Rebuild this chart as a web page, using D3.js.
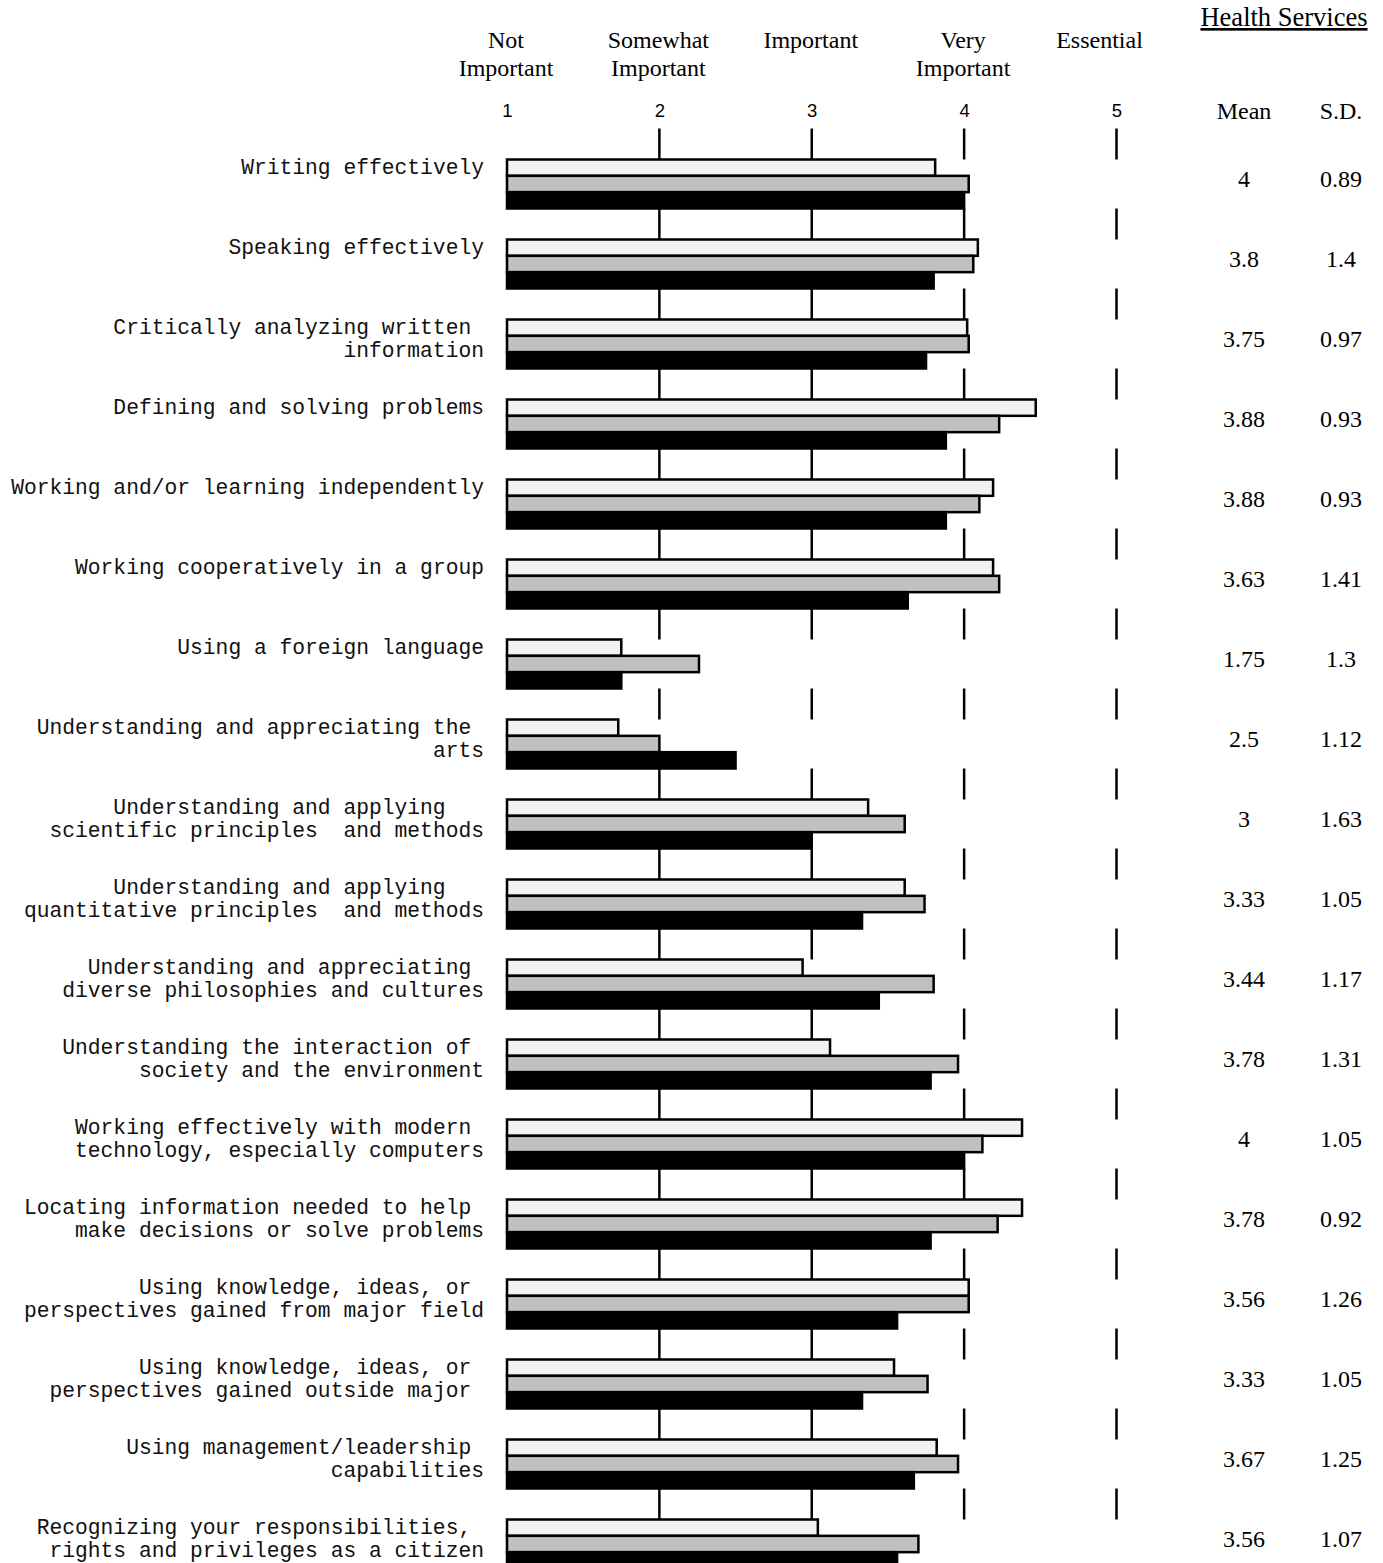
<!DOCTYPE html>
<html>
<head>
<meta charset="utf-8">
<script src="https://cdn.jsdelivr.net/npm/d3@7"></script>
<style>
  body { margin: 0; background: #fff; }
  svg { display: block; }
</style>
</head>
<body>
<div id="chart"></div>
<script>
// skill labels, one array of lines per row (trailing spaces are in the original)
const categories = [
  ["Writing effectively"],
  ["Speaking effectively"],
  ["Critically analyzing written ", "information"],
  ["Defining and solving problems"],
  ["Working and/or learning independently"],
  ["Working cooperatively in a group"],
  ["Using a foreign language"],
  ["Understanding and appreciating the ", "arts"],
  ["Understanding and applying   ", "scientific principles  and methods"],
  ["Understanding and applying   ", "quantitative principles  and methods"],
  ["Understanding and appreciating ", "diverse philosophies and cultures"],
  ["Understanding the interaction of ", "society and the environment"],
  ["Working effectively with modern ", "technology, especially computers"],
  ["Locating information needed to help ", "make decisions or solve problems"],
  ["Using knowledge, ideas, or ", "perspectives gained from major field"],
  ["Using knowledge, ideas, or ", "perspectives gained outside major "],
  ["Using management/leadership ", "capabilities"],
  ["Recognizing your responsibilities, ", "rights and privileges as a citizen"],
];

// light bar, grey bar
const lightValues = [3.81, 4.09, 4.02, 4.47, 4.19, 4.19, 1.75, 1.73, 3.37, 3.61, 2.94, 3.12, 4.38, 4.38, 4.03, 3.54, 3.82, 3.04];
const greyValues = [4.03, 4.06, 4.03, 4.23, 4.1, 4.23, 2.26, 2.0, 3.61, 3.74, 3.8, 3.96, 4.12, 4.22, 4.03, 3.76, 3.96, 3.7];

// Health Services (black bar = mean)
const means = [4, 3.8, 3.75, 3.88, 3.88, 3.63, 1.75, 2.5, 3, 3.33, 3.44, 3.78, 4, 3.78, 3.56, 3.33, 3.67, 3.56];
const sds = ["0.89", "1.4", "0.97", "0.93", "0.93", "1.41", "1.3", "1.12", "1.63", "1.05", "1.17", "1.31", "1.05", "0.92", "1.26", "1.05", "1.25", "1.07"];

const tickValues = [1, 2, 3, 4, 5];
const scaleLabels = [["Not", "Important"], ["Somewhat", "Important"], ["Important"], ["Very", "Important"], ["Essential"]];
const gridValues = [2, 3, 4, 5];
const seriesKeys = ["light", "grey", "health"];

const width = 1383,
  height = 1563;

const serif = "'Liberation Serif', 'Times New Roman', serif";
const mono = "'Liberation Mono', 'Courier New', monospace";
const sans = "'Liberation Sans', Arial, sans-serif";

const svg = d3
  .select("#chart")
  .append("svg")
  .attr("width", width)
  .attr("height", height)
  .style("background", "#fff");

// x scale: 1..5 importance
const x = d3.scaleLinear().domain([1, 5]).range([507, 1116.5]);

// one band per skill, step 80px
const rowIdx = d3.range(categories.length);
const pad = 0.3875;
const y = d3
  .scaleBand()
  .domain(rowIdx)
  .range([159.5, 159.5 + 80 * (categories.length - pad)])
  .paddingInner(pad)
  .paddingOuter(0);

// sub band for the three bars
const ySub = d3.scaleBand().domain(seriesKeys).range([0, y.bandwidth()]);

const color = d3.scaleOrdinal().domain(seriesKeys).range(["#f2f2f2", "#c0c0c0", "#000000"]);

// grid segments, only in the gaps between groups
const gridData = [];
rowIdx.forEach((i) => gridValues.forEach((v) => gridData.push({ i, v })));
svg
  .append("g")
  .selectAll("line")
  .data(gridData)
  .join("line")
  .attr("x1", (d) => x(d.v))
  .attr("x2", (d) => x(d.v))
  .attr("y1", (d) => y(d.i) - 31)
  .attr("y2", (d) => y(d.i))
  .attr("stroke", "#000")
  .attr("stroke-width", 2.5);

// bars
const rows = rowIdx.map((i) => [
  { key: "light", value: lightValues[i] },
  { key: "grey", value: greyValues[i] },
  { key: "health", value: means[i] },
]);

svg
  .append("g")
  .selectAll("g")
  .data(rows)
  .join("g")
  .attr("transform", (d, i) => `translate(0, ${y(i)})`)
  .selectAll("rect")
  .data((d) => d)
  .join("rect")
  .attr("x", x(1))
  .attr("y", (d) => ySub(d.key))
  .attr("width", (d) => x(d.value) - x(1))
  .attr("height", ySub.bandwidth())
  .attr("fill", (d) => color(d.key))
  .attr("stroke", "#000")
  .attr("stroke-width", 2.5);

// skill labels on the left
svg
  .append("g")
  .selectAll("text")
  .data(categories)
  .join("text")
  .attr("xml:space", "preserve")
  .style("white-space", "pre")
  .attr("text-anchor", "end")
  .style("font-family", mono)
  .style("font-size", "21.3px")
  .attr("fill", "#111")
  .each(function (lines, i) {
    d3.select(this)
      .selectAll("tspan")
      .data(lines)
      .join("tspan")
      .attr("x", 484)
      .attr("y", (l, j) => y(i) + 14 + j * 23)
      .text((l) => l);
  });

// tick numbers along the top
const axis = svg
  .append("g")
  .attr("transform", "translate(0, 117)")
  .call(d3.axisTop(x).tickValues(tickValues).tickSize(0).tickFormat(d3.format("d")));
axis.select(".domain").remove();
axis
  .selectAll("text")
  .attr("dy", 0)
  .attr("y", 0)
  .style("font-family", sans)
  .style("font-size", "18.5px")
  .attr("fill", "#000");

// scale labels above the numbers
svg
  .append("g")
  .selectAll("text")
  .data(scaleLabels)
  .join("text")
  .attr("text-anchor", "middle")
  .style("font-family", serif)
  .style("font-size", "24px")
  .each(function (lines, i) {
    // "Essential" sits a little left of its tick in the original
    const cx = x(tickValues[i]) - (i === 4 ? 16 : 0) - 1;
    d3.select(this)
      .selectAll("tspan")
      .data(lines)
      .join("tspan")
      .attr("x", cx)
      .attr("y", (l, j) => 48 + j * 28)
      .text((l) => l);
  });

// Health Services header
const meanX = 1244,
  sdX = 1341;

svg
  .append("text")
  .attr("x", 1284)
  .attr("y", 26)
  .attr("text-anchor", "middle")
  .style("font-family", serif)
  .style("font-size", "26.5px")
  .style("text-decoration", "underline")
  .text("Health Services");

svg
  .append("text")
  .attr("x", meanX)
  .attr("y", 119)
  .attr("text-anchor", "middle")
  .style("font-family", serif)
  .style("font-size", "24px")
  .text("Mean");

svg
  .append("text")
  .attr("x", sdX)
  .attr("y", 119)
  .attr("text-anchor", "middle")
  .style("font-family", serif)
  .style("font-size", "24px")
  .text("S.D.");

// mean / sd columns
const stats = svg.append("g").style("font-family", serif).style("font-size", "24px");

stats
  .selectAll(".mean")
  .data(means)
  .join("text")
  .attr("class", "mean")
  .attr("x", meanX)
  .attr("y", (d, i) => y(i) + 27)
  .attr("text-anchor", "middle")
  .text((d) => d);

stats
  .selectAll(".sd")
  .data(sds)
  .join("text")
  .attr("class", "sd")
  .attr("x", sdX)
  .attr("y", (d, i) => y(i) + 27)
  .attr("text-anchor", "middle")
  .text((d) => d);
</script>
</body>
</html>
